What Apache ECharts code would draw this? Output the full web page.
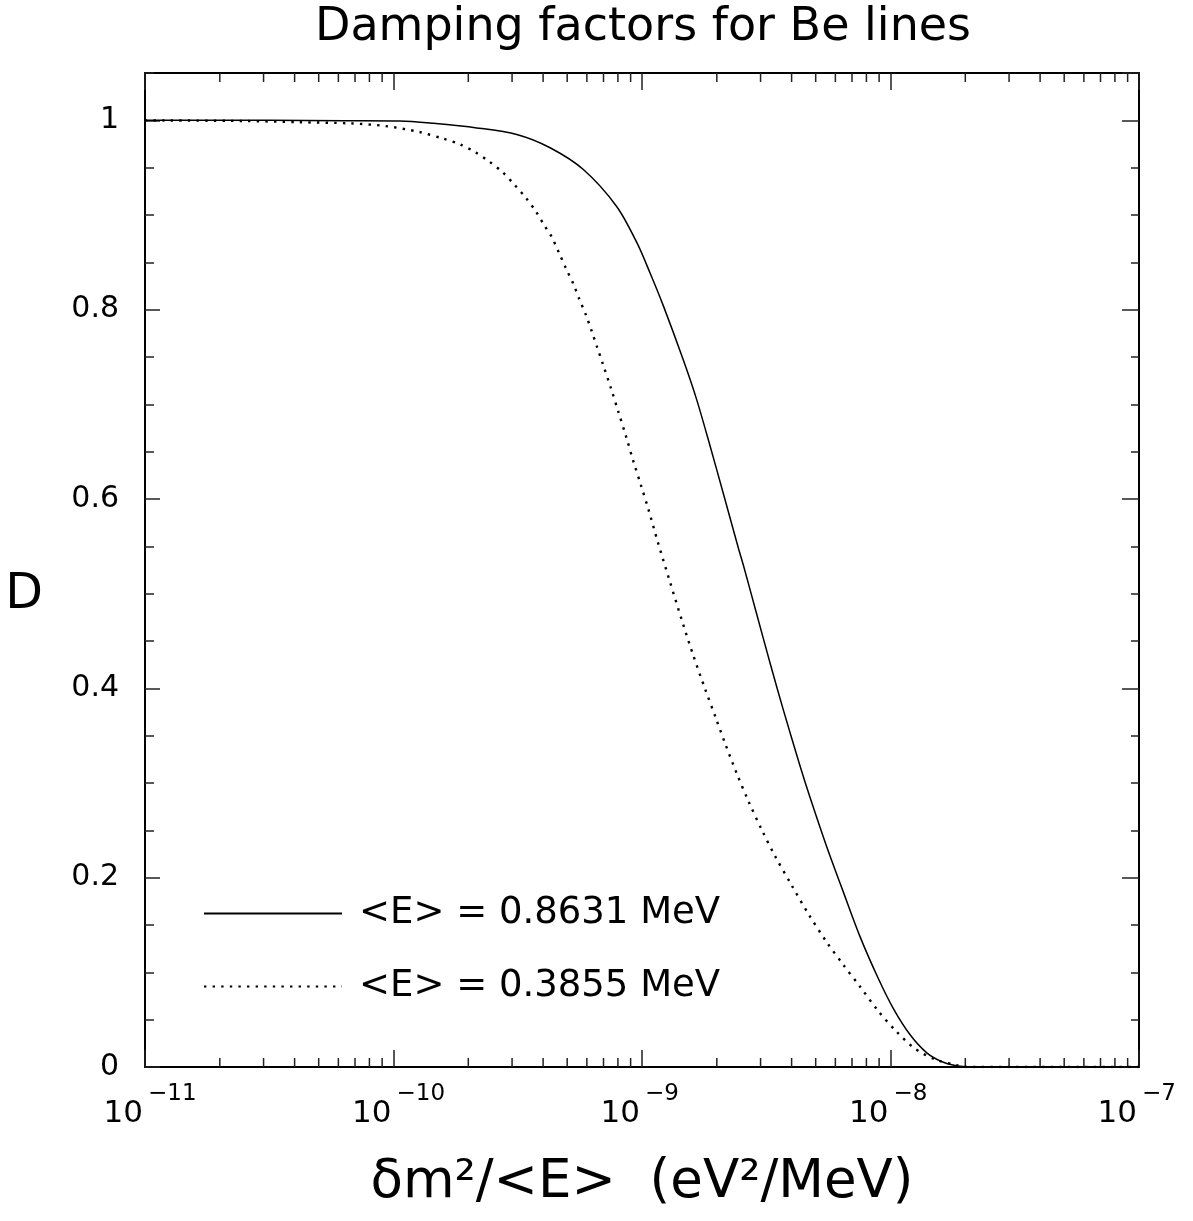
<!DOCTYPE html>
<html>
<head>
<meta charset="utf-8">
<title>Damping factors for Be lines</title>
<script src="https://cdn.jsdelivr.net/npm/echarts@6.0.0/dist/echarts.min.js"></script>
<style>
html, body { margin: 0; padding: 0; background: #fff; }
#main { width: 1193px; height: 1221px; }
</style>
</head>
<body>
<div id="main"></div>
<script>
// 数据：x 以 log10 指数给出，D 为阻尼因子
var solidExp = [-11, -10.5, -10.2, -9.974, -9.84, -9.665, -9.504, -9.37, -9.236, -9.102, -9.021, -8.968,
    -8.914, -8.834, -8.78, -8.726, -8.673, -8.612, -8.592, -8.538, -8.485, -8.431, -8.364, -8.324,
    -8.257, -8.19, -8.123, -8.05, -7.989, -7.921, -7.854, -7.787, -7.72, -7.65, -7];
var solidD = [1.0, 1.0, 0.9996, 0.9993, 0.9968, 0.992, 0.985, 0.971, 0.948, 0.909, 0.871, 0.839,
    0.804, 0.747, 0.705, 0.656, 0.606, 0.548, 0.530, 0.478, 0.427, 0.377, 0.318, 0.285,
    0.233, 0.185, 0.138, 0.094, 0.062, 0.034, 0.015, 0.005, 0.0008, 0, 0];

var dotExp = [-11, -10.6, -10.376, -10.175, -10.034, -9.896, -9.8, -9.732, -9.672, -9.614, -9.562, -9.514,
    -9.468, -9.428, -9.393, -9.363, -9.334, -9.306, -9.276, -9.252, -9.225, -9.202, -9.18, -9.158,
    -9.125, -9.095, -9.064, -9.035, -9.004, -8.973, -8.938, -8.887, -8.836, -8.794, -8.747, -8.702,
    -8.666, -8.617, -8.572, -8.518, -8.465, -8.398, -8.331, -8.257, -8.19, -8.123, -8.049, -7.978,
    -7.905, -7.821, -7.734, -7.69, -7];
var dotD = [1.0, 0.9993, 0.998, 0.9968, 0.994, 0.9877, 0.9807, 0.9746, 0.9665, 0.9563, 0.9454, 0.9323,
    0.9183, 0.9042, 0.889, 0.8767, 0.86, 0.8436, 0.827, 0.811, 0.794, 0.777, 0.760, 0.743,
    0.717, 0.692, 0.666, 0.640, 0.6145, 0.588, 0.556, 0.512, 0.469, 0.435, 0.400, 0.368,
    0.342, 0.309, 0.281, 0.2505, 0.223, 0.192, 0.162, 0.132, 0.108, 0.085, 0.059, 0.038,
    0.020, 0.008, 0.002, 0, 0];

var seriesNames = ['<E> = 0.8631 MeV', '<E> = 0.3855 MeV'];
var xDecades = [-11, -10, -9, -8, -7];
var minorMult = [2, 3, 4, 5, 6, 7, 8, 9];
var yMin = 0, yMax = 1.05;

var FONT = 'DejaVu Sans';

function toPairs(exps, vals) {
    var out = [];
    for (var i = 0; i < exps.length; i++) {
        out.push([Math.pow(10, exps[i]), vals[i]]);
    }
    return out;
}

// x 轴次刻度 (2..9 × 10^n)
var minorTicks = [];
for (var d = 0; d < xDecades.length - 1; d++) {
    for (var k = 0; k < minorMult.length; k++) {
        minorTicks.push([minorMult[k] * Math.pow(10, xDecades[d]), 0]);
    }
}

function expLabel(value) {
    var e = Math.round(Math.log10(value));
    return '\u2212' + Math.abs(e);
}

function yLabel(value) {
    var r = Math.round(value * 10) / 10;
    if (Math.abs(value - r) > 1e-6 || Math.abs(r * 5 - Math.round(r * 5)) > 1e-6) return '';
    if (r === 0) return '0';
    if (r === 1) return '1';
    return r.toFixed(1);
}

function logAxis(pos, extra) {
    var ax = {
        type: 'log',
        logBase: 10,
        min: 1e-11,
        max: 1e-7,
        splitNumber: 4,
        position: pos,
        axisLine: { onZero: false, lineStyle: { color: '#000', width: 2 } },
        axisTick: { inside: true, length: 17, lineStyle: { color: '#222', width: 1.5 } },
        axisLabel: { show: false },
        splitLine: { show: false }
    };
    for (var key in extra) ax[key] = extra[key];
    return ax;
}

function valAxis(pos, interval, tickLen, extra) {
    var ax = {
        type: 'value',
        min: yMin,
        max: yMax,
        interval: interval,
        position: pos,
        axisLine: { onZero: false, lineStyle: { color: '#000', width: 2 } },
        axisTick: { inside: true, length: tickLen, lineStyle: { color: '#222', width: 1.5 } },
        axisLabel: { show: false },
        splitLine: { show: false }
    };
    for (var key in extra) ax[key] = extra[key];
    return ax;
}

var chart = echarts.init(document.getElementById('main'), null, { renderer: 'canvas' });

var option = {
    animation: false,
    backgroundColor: '#fff',
    textStyle: { fontFamily: FONT, color: '#000' },
    title: {
        text: 'Damping factors for Be lines',
        left: 315,
        top: 0,
        padding: [5, 0, 0, 0],
        textStyle: { fontFamily: FONT, fontSize: 46, fontWeight: 'normal', color: '#000' }
    },
    grid: { left: 145, right: 54, top: 73, bottom: 154 },
    legend: {
        data: seriesNames,
        orient: 'vertical',
        left: 203,
        top: 895,
        padding: 0,
        itemWidth: 138,
        itemHeight: 16,
        itemGap: 36,
        selectedMode: false,
        itemStyle: { opacity: 0 },
        textStyle: { fontFamily: FONT, fontSize: 37, lineHeight: 37, color: '#000', padding: [0, 0, 0, 12] }
    },
    xAxis: [
        // 主轴：刻度 + "10"
        logAxis('bottom', {
            name: '\u03b4m\u00b2/<E>  (eV\u00b2/MeV)',
            nameLocation: 'middle',
            nameGap: 90,
            nameTextStyle: { fontFamily: FONT, fontSize: 53, color: '#000' },
            axisLabel: {
                margin: 31, fontFamily: FONT, fontSize: 31, color: '#000',
                align: 'right', padding: [0, 2, 0, 0],
                formatter: function () { return '10'; }
            }
        }),
        // 上边框
        logAxis('top', {}),
        // 指数（上标）
        logAxis('bottom', {
            axisLine: { show: false },
            axisTick: { show: false },
            axisLabel: {
                margin: 16, fontFamily: FONT, fontSize: 23, color: '#000',
                align: 'left', padding: [0, 0, 0, 3],
                formatter: expLabel
            }
        })
    ],
    yAxis: [
        valAxis('left', 0.2, 15, {
            name: 'D',
            nameLocation: 'middle',
            nameRotate: 0,
            nameGap: 102,
            nameTextStyle: { fontFamily: FONT, fontSize: 49, lineHeight: 50, color: '#000', verticalAlign: 'top' },
            axisLabel: { margin: 26, fontSize: 30, fontFamily: FONT, color: '#000', formatter: yLabel, showMaxLabel: false }
        }),
        // 左侧次刻度
        valAxis('left', 0.05, 9, { axisLine: { show: false } }),
        valAxis('right', 0.2, 17, {}),
        valAxis('right', 0.05, 8, { axisLine: { show: false } })
    ],
    series: [{
        name: seriesNames[0],
        type: 'line',
        data: toPairs(solidExp, solidD),
        symbol: 'none',
        showSymbol: false,
        smooth: 0.3,
        lineStyle: { color: '#000', width: 1.5, type: 'solid' },
        itemStyle: { color: '#000', opacity: 0 }
    }, {
        name: seriesNames[1],
        type: 'line',
        data: toPairs(dotExp, dotD),
        symbol: 'none',
        showSymbol: false,
        smooth: 0.3,
        lineStyle: { color: '#000', width: 2.4, type: [2.4, 6.2], cap: 'butt' },
        itemStyle: { color: '#000', opacity: 0 }
    }, {
        // x 轴上下两侧的次刻度
        type: 'custom',
        name: 'minorTicks',
        silent: true,
        data: minorTicks,
        encode: { x: 0, y: 1 },
        renderItem: function (params, api) {
            var x = api.value(0);
            var pb = api.coord([x, yMin]);
            var pt = api.coord([x, yMax]);
            var st = { stroke: '#222', lineWidth: 1.5 };
            return {
                type: 'group',
                children: [
                    { type: 'line', shape: { x1: pb[0], y1: pb[1], x2: pb[0], y2: pb[1] - 9 }, style: st },
                    { type: 'line', shape: { x1: pt[0], y1: pt[1], x2: pt[0], y2: pt[1] + 9 }, style: st }
                ]
            };
        }
    }]
};

chart.setOption(option);
</script>
</body>
</html>
